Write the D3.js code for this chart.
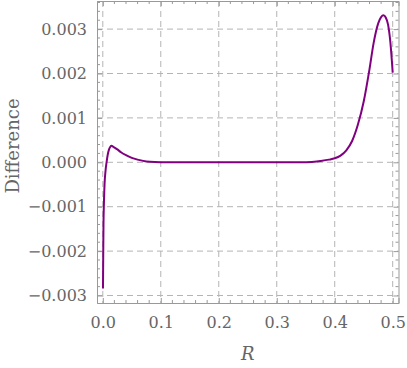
<!DOCTYPE html>
<html>
<head>
<meta charset="utf-8">
<script src="https://cdn.jsdelivr.net/npm/d3@7"></script>
<style>
  body { margin: 0; background: #fff; }
  text { font-family: "DejaVu Serif", serif; fill: #666; }
</style>
</head>
<body>
<script>
// values
const rValues = [0.0003, 0.0008, 0.0012, 0.002, 0.003, 0.0045, 0.0065, 0.0085, 0.0105, 0.013, 0.015, 0.018,
  0.025, 0.032, 0.04, 0.05, 0.06, 0.075, 0.09, 0.11, 0.15, 0.2, 0.25, 0.3, 0.34, 0.36, 0.375, 0.39, 0.4,
  0.41, 0.42, 0.43, 0.44, 0.45, 0.46, 0.467, 0.475, 0.48, 0.484, 0.488, 0.492, 0.496, 0.5];
const diffValues = [-0.00284, -0.0020, -0.0014, -0.0009, -0.0005, -0.00022, 0.0, 0.00017, 0.00028, 0.00035, 0.00037, 0.00035,
  0.00029, 0.00022, 0.00016, 0.0001, 0.00006, 0.00002, 0.000006, 0.000001, 0, 0, 0, 0, 0.000002, 0.000008, 0.00003, 0.00006, 0.00009,
  0.00015, 0.00027, 0.00048, 0.00085, 0.00137, 0.0021, 0.00268, 0.00313, 0.00327, 0.00331, 0.00326, 0.0031, 0.0027, 0.00202];
const xTicks = [0, 0.1, 0.2, 0.3, 0.4, 0.5];
const yTicks = [-0.003, -0.002, -0.001, 0, 0.001, 0.002, 0.003];
const xLabel = "R", yLabel = "Difference";

const W = 407, H = 368;
const fLeft = 97, fRight = 398.5, fTop = 1, fBottom = 303;

const x = d3.scaleLinear().domain([-0.01, 0.51]).range([fLeft, fRight]);
const y = d3.scaleLinear().domain([-0.003169, 0.003633]).range([fBottom, fTop]);

let svg = d3.select("body").append("svg")
  .attr("width", W)
  .attr("height", H);

// grid
const grid = svg.append("g").attr("stroke", "#b4b4b4").attr("stroke-width", 1).attr("stroke-dasharray", "6,4");
grid.selectAll("line.gx").data(xTicks).join("line")
  .attr("x1", d => x(d)).attr("x2", d => x(d))
  .attr("y1", fTop).attr("y2", fBottom);
grid.selectAll("line.gy").data(yTicks).join("line")
  .attr("y1", d => y(d)).attr("y2", d => y(d))
  .attr("x1", fLeft).attr("x2", fRight);

// curve
const pts = rValues.map((r, i) => [r, diffValues[i]]);
svg.append("path")
  .datum(pts)
  .attr("fill", "none")
  .attr("stroke", "#800080")
  .attr("stroke-width", 2)
  .attr("d", d3.line().x(d => x(d[0])).y(d => y(d[1])).curve(d3.curveMonotoneX));

// frame + ticks on all sides
const xMinor = d3.range(-0.0, 0.5001, 0.02).filter(v => xTicks.every(t => Math.abs(t - v) > 1e-6));
const yMinor = d3.range(-0.003, 0.00361, 0.0002).filter(v => yTicks.every(t => Math.abs(t - v) > 1e-7));
const fc = "#999";

const axB = d3.axisBottom(x).tickValues(xTicks).tickSize(-5).tickPadding(14).tickFormat(d3.format(".1f"));
const axL = d3.axisLeft(y).tickValues(yTicks).tickSize(-5).tickPadding(10).tickFormat(d => d3.format(".3f")(d).replace("-", "\u2212"));
const axT = d3.axisTop(x).tickValues(xTicks).tickSize(-5).tickFormat("");
const axR = d3.axisRight(y).tickValues(yTicks).tickSize(-5).tickFormat("");

function styleAxis(g) {
  g.select(".domain").attr("stroke", fc);
  g.selectAll(".tick line").attr("stroke", fc);
  g.selectAll(".tick text").style("font-size", "16px").attr("fill", "#666");
}
svg.append("g").attr("transform", `translate(0,${fBottom})`).call(axB).call(styleAxis);
svg.append("g").attr("transform", `translate(${fLeft},0)`).call(axL).call(styleAxis);
svg.append("g").attr("transform", `translate(0,${fTop})`).call(axT).call(styleAxis);
svg.append("g").attr("transform", `translate(${fRight},0)`).call(axR).call(styleAxis);

const minor = svg.append("g").attr("stroke", fc).attr("stroke-width", 1);
xMinor.forEach(v => {
  minor.append("line").attr("x1", x(v)).attr("x2", x(v)).attr("y1", fBottom).attr("y2", fBottom - 3);
  minor.append("line").attr("x1", x(v)).attr("x2", x(v)).attr("y1", fTop).attr("y2", fTop + 3);
});
yMinor.forEach(v => {
  minor.append("line").attr("y1", y(v)).attr("y2", y(v)).attr("x1", fLeft).attr("x2", fLeft + 3);
  minor.append("line").attr("y1", y(v)).attr("y2", y(v)).attr("x1", fRight).attr("x2", fRight - 3);
});

// axis labels
svg.append("text")
  .attr("x", (fLeft + fRight) / 2).attr("y", 360)
  .attr("text-anchor", "middle")
  .style("font-size", "18px").style("font-style", "italic")
  .text(xLabel);
svg.append("text")
  .attr("transform", "translate(19,146) rotate(-90)")
  .attr("text-anchor", "middle")
  .style("font-size", "18px")
  .text(yLabel);
</script>
</body>
</html>
